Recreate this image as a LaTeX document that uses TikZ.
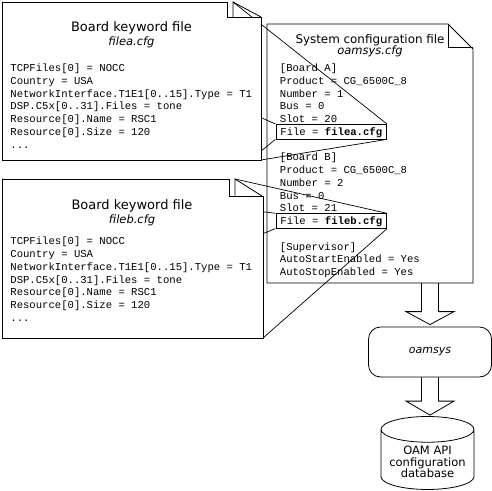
\documentclass[tikz,border=0pt]{standalone}
\usepackage{fontspec}
\setmainfont{DejaVu Sans}
\setmonofont{Liberation Mono}
\usetikzlibrary{positioning, calc, shapes.geometric}

\begin{document}
\begin{tikzpicture}[
    x=1pt, y=-1pt,
    line width=0.8pt,
    doc/.style={draw, fill=white},
    doctitle/.style={font=\fontsize{13}{14}\selectfont, inner sep=0pt, anchor=base},
    docname/.style={font=\fontsize{11.5}{14}\selectfont\itshape, inner sep=0pt, anchor=base},
    cfg/.style={font=\fontsize{10.6}{12.75}\selectfont\ttfamily, align=left, inner sep=0pt, anchor=north west},
    filebox/.style={draw, font=\fontsize{10.6}{12.75}\selectfont\ttfamily, inner xsep=4.5pt, inner ysep=2pt, text height=9pt, text depth=1.5pt, anchor=base west},
    callout/.style={line width=0.7pt},
    bigarrow/.style={draw},
    procbox/.style={draw, rounded corners=12pt, minimum width=123pt, minimum height=50pt, font=\fontsize{11}{13}\selectfont\itshape},
    dbbox/.style={draw, cylinder, shape border rotate=90, aspect=0.31, minimum width=93pt, minimum height=54pt, align=center, font=\fontsize{11.5}{11.7}\selectfont}
]
\fill[white] (0,0) rectangle (492,490);
\useasboundingbox (0,0) rectangle (492,490);

% System configuration file
\draw[doc] (267,24) -- (448,24) -- (473,49) -- (473,283) -- (267,283) -- cycle;
\draw (448,24) -- (448,47) -- (473,47);
\coordinate (sysbot) at (430,283);
\node[doctitle, font=\fontsize{11.9}{14}\selectfont] (systitle) at (370,43) {System configuration file};
\node[docname] (sysname) at (370,54.5) {oamsys.cfg};
\node[cfg] (cfga) at (279.5,63.5) {{[Board A]}\\Product = CG\_6500C\_8\\Number = 1\\Bus = 0\\Slot = 20};
\node[filebox] (fa) at (275.5,135.45) {File = \textbf{filea.cfg}};
\node[cfg] (cfgb) at (279.5,152.7) {{[Board B]}\\Product = CG\_6500C\_8\\Number = 2\\Bus = 0\\Slot = 21};
\node[filebox] (fb) at (275.5,224.7) {File = \textbf{fileb.cfg}};
\node[cfg] (cfgsup) at (279.5,242) {{[Supervisor]}\\AutoStartEnabled = Yes\\AutoStopEnabled = Yes};

% Board corners
\coordinate (atl) at (2,2);
\coordinate (aflap) at (233,2);
\coordinate (abl) at (250,160);
\coordinate (abr) at (261,160);
\coordinate (btl) at (2,179);
\coordinate (bflap) at (235,179);
\coordinate (bbl) at (2,338);
\coordinate (bbr) at (263,338);

% Callouts
\draw[callout] (fa.north east) -- (aflap);
\draw[callout] (fa.north west) -- (atl);
\draw[callout] (fa.south west) -- (abl);
\draw[callout] (fa.south east) -- (abr);
\draw[callout] (fb.north east) -- (bflap);
\draw[callout] (fb.north west) -- (btl);
\draw[callout] (fb.south west) -- (bbl);
\draw[callout] (fb.south east) -- (bbr);

% Board keyword file A
\draw[doc] (atl) -- (227,2) -- (227,17) -- (261,17) -- (abr) -- (2,160) -- cycle;
\draw (233,17) -- (aflap) -- (261,17);
\node[doctitle] (atitle) at (131.5,31) {Board keyword file};
\node[docname] (aname) at (131.5,45.7) {filea.cfg};
\node[cfg] (akeys) at (10,63.5) {TCPFiles[0] = NOCC\\Country = USA\\NetworkInterface.T1E1[0..15].Type = T1\\DSP.C5x[0..31].Files = tone\\Resource[0].Name = RSC1\\Resource[0].Size = 120\\...};

% Board keyword file B
\draw[doc] (btl) -- (229,179) -- (229,196) -- (263,196) -- (bbr) -- (bbl) -- cycle;
\draw (235,196) -- (bflap) -- (262,196);
\node[doctitle] (btitle) at (132,209) {Board keyword file};
\node[docname] (bname) at (132,223.3) {fileb.cfg};
\node[cfg] (bkeys) at (10,236.8) {TCPFiles[0] = NOCC\\Country = USA\\NetworkInterface.T1E1[0..15].Type = T1\\DSP.C5x[0..31].Files = tone\\Resource[0].Name = RSC1\\Resource[0].Size = 120\\...};

% oamsys and database
\node[procbox] (oam) at (430,352) {oamsys};
\node[dbbox] (db) at (427.5,462) {OAM API\\configuration\\database};

\draw[bigarrow] ($(sysbot)+(-8.5,0)$) |- ($(oam.north)+(-24,-15)$) -- ($(oam.north)+(0,-2)$) -- ($(oam.north)+(24,-15)$) -| ($(sysbot)+(8.5,0)$);
\draw[bigarrow] ($(oam.south)+(-8.5,0)$) |- ($(oam.south |- db.north)+(-24,-15)$) -- ($(oam.south |- db.north)+(0,-1)$) -- ($(oam.south |- db.north)+(24,-15)$) -| ($(oam.south)+(8.5,0)$);

\end{tikzpicture}
\end{document}
